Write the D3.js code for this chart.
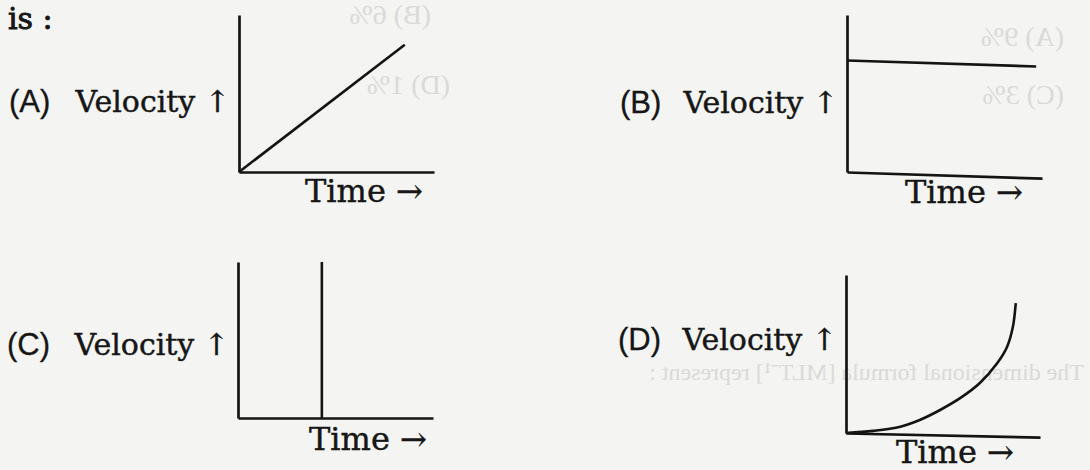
<!DOCTYPE html>
<html>
<head>
<meta charset="utf-8">
<script src="https://cdn.jsdelivr.net/npm/d3@7"></script>
<style>
  html, body { margin: 0; padding: 0; background: #f4f4f2; }
  svg { display: block; }
  .serif { font-family: "DejaVu Serif", "Liberation Serif", serif; fill: #161616; stroke: #161616; stroke-width: 0.45px; }
  .sans { font-family: "Liberation Sans", Arial, sans-serif; fill: #161616; stroke: #161616; stroke-width: 0.3px; }
  .ghost { font-family: "Liberation Serif", serif; fill: #dadad7; }
</style>
</head>
<body>
<div id="chart"></div>
<script>
var W = 1090, H = 470;

// option labels and axis titles
var optionLabels = ["(A)", "(B)", "(C)", "(D)"];
var yTitle = "Velocity \u2191";
var xTitle = "Time \u2192";
var stemText = "is :";

// velocity-time data (axis units 0..10)
var timeA = [0, 8.5];
var velA  = [0, 8.1];

var timeB = [0, 9.7];
var velB  = [7.1, 7.1];

var timeC = [4.3, 4.3];
var velC  = [0, 10];

var timeD = [0, 1.4, 2.8, 3.8, 4.85, 5.9, 6.9, 7.8, 8.3, 8.6, 8.75];
var velD  = [0, 0.17, 0.47, 0.92, 1.58, 2.37, 3.34, 4.63, 5.66, 6.93, 8.45];

// faint show-through from the back of the page (mirrored)
var ghostText = ["(B) 6%", "(D) 1%", "(A) 9%", "(C) 3%", "The dimensional formula [MLT\u207B\u00B9] represent :"];

var panels = [
  {label: optionLabels[0], t: timeA, v: velA, left: 239, top: 15,  w: 195, h: 157, skew: 0,
   labelX: 9,   labelY: 112, timeX: 305, timeY: 202},
  {label: optionLabels[1], t: timeB, v: velB, left: 847, top: 15,  w: 195, h: 157, skew: 1.8,
   labelX: 620, labelY: 113, timeX: 905, timeY: 203},
  {label: optionLabels[2], t: timeC, v: velC, left: 238, top: 262, w: 195, h: 156, skew: 0,
   labelX: 7,   labelY: 355, timeX: 309, timeY: 450},
  {label: optionLabels[3], t: timeD, v: velD, left: 846, top: 275, w: 194, h: 158, skew: 1.2,
   labelX: 618, labelY: 350, timeX: 896, timeY: 463, curve: true}
];

var svg = d3.select("#chart").append("svg")
    .attr("width", W)
    .attr("height", H);

svg.append("rect")
    .attr("width", W)
    .attr("height", H)
    .attr("fill", "#f4f4f2");

// show-through, drawn mirrored
var ghost = svg.append("g")
    .attr("transform", "translate(" + W + ",0) scale(-1,1)");
var ghostPos = [[659, 24, 28], [640, 94, 28], [26, 46, 28], [26, 104, 28], [6, 380, 24]];
ghost.selectAll("text")
    .data(ghostText)
  .enter().append("text")
    .attr("class", "ghost")
    .attr("x", function(d, i) { return ghostPos[i][0]; })
    .attr("y", function(d, i) { return ghostPos[i][1]; })
    .style("font-size", function(d, i) { return ghostPos[i][2] + "px"; })
    .text(function(d) { return d; });

svg.append("text")
    .attr("class", "serif")
    .attr("x", 8)
    .attr("y", 29)
    .style("font-size", "30px")
    .style("stroke-width", "0.9px")
    .text(stemText);

panels.forEach(function(p) {
  var x = d3.scaleLinear().domain([0, 10]).range([0, p.w]);
  var y = d3.scaleLinear().domain([0, 10]).range([p.h, 0]);

  svg.append("text")
      .attr("class", "sans")
      .attr("x", p.labelX)
      .attr("y", p.labelY)
      .style("font-size", "31px")
      .text(p.label);

  svg.append("text")
      .attr("class", "serif")
      .attr("x", p.left - 9)
      .attr("y", p.labelY)
      .attr("text-anchor", "end")
      .style("font-size", "30px")
      .text(yTitle);

  svg.append("text")
      .attr("class", "serif")
      .attr("x", p.timeX)
      .attr("y", p.timeY)
      .style("font-size", "32px")
      .text(xTitle);

  var g = svg.append("g")
      .attr("transform", "translate(" + p.left + "," + p.top + ") skewY(" + p.skew + ")");

  var xAxis = d3.axisBottom(x).tickValues([]).tickSizeOuter(0);
  var yAxis = d3.axisLeft(y).tickValues([]).tickSizeOuter(0);

  g.append("g")
      .attr("transform", "translate(0," + p.h + ")")
      .call(xAxis);
  g.append("g")
      .call(yAxis);

  g.selectAll(".domain")
      .attr("stroke", "#141414")
      .attr("stroke-width", 2.7);

  var pts = p.t.map(function(d, i) { return {t: d, v: p.v[i]}; });

  var line = d3.line()
      .x(function(d) { return x(d.t); })
      .y(function(d) { return y(d.v); });
  if (p.curve) line.curve(d3.curveCatmullRom.alpha(0.5));

  g.append("path")
      .datum(pts)
      .attr("fill", "none")
      .attr("stroke", "#141414")
      .attr("stroke-width", 2.6)
      .attr("d", line);
});
</script>
</body>
</html>
